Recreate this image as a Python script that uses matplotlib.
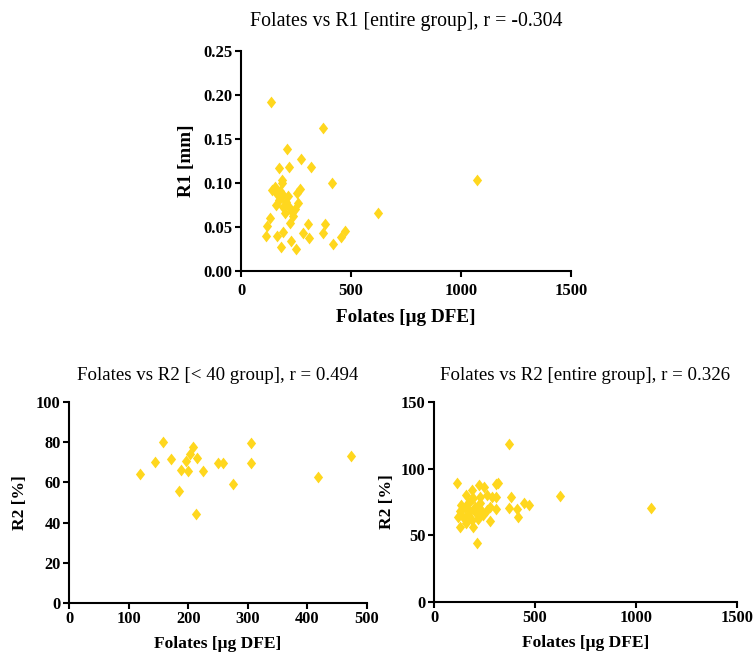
import matplotlib
matplotlib.use("Agg")
import matplotlib.pyplot as plt
from matplotlib.path import Path
import numpy as np

# ---- data ----
r1_folates = [135, 374, 210, 173, 219, 274, 316, 188, 415, 1072, 624,
              139, 154, 162, 177, 192, 174, 159, 189, 204, 215, 219, 200, 230, 245, 253, 268, 260, 238, 222, 185,
              132, 120, 114, 162, 192, 180, 226, 250, 283, 304, 307, 374, 381, 416, 453, 472]
r1_values = [0.192, 0.163, 0.139, 0.117, 0.118, 0.127, 0.118, 0.103, 0.100, 0.103, 0.066,
             0.092, 0.096, 0.088, 0.091, 0.086, 0.081, 0.075, 0.073, 0.078, 0.085, 0.073, 0.066, 0.067, 0.071, 0.089, 0.093, 0.077, 0.062, 0.055, 0.100,
             0.060, 0.051, 0.040, 0.040, 0.044, 0.027, 0.034, 0.025, 0.043, 0.053, 0.038, 0.043, 0.053, 0.031, 0.039, 0.045]

young_folates = [119, 144, 158, 171, 184, 188, 196, 199, 203, 208, 214, 213, 224, 250, 259, 276, 305, 305, 418, 473]
young_r2 = [64.2, 70.0, 80.3, 71.4, 55.6, 66.0, 70.4, 65.7, 74.0, 77.8, 71.9, 44.3, 65.9, 69.9, 69.9, 59.3, 79.5, 69.9, 62.9, 72.9]

all_folates = [371, 114, 222, 248, 308, 316, 190, 157, 260, 285, 306, 381, 622, 1074, 372, 412, 447, 471, 417, 305, 276, 215, 131, 118, 194, 157,
               136, 152, 169, 177, 185, 202, 210, 227, 235, 243, 219, 260, 194, 169, 144, 277, 127, 190, 227]
all_r2 = [118.5, 89.0, 87.6, 86.0, 88.6, 89.0, 84.0, 80.0, 80.0, 79.0, 79.0, 78.6, 79.8, 70.4, 70.4, 69.6, 74.1, 73.1, 63.4, 70.0, 60.4, 44.6, 56.6, 64.1, 56.6, 59.2,
          72.9, 70.4, 74.1, 67.9, 76.6, 71.6, 66.6, 74.1, 69.1, 65.4, 61.9, 69.1, 77.9, 65.4, 64.1, 71.6, 67.9, 61.6, 79.1]

titles = ["Folates vs R1 [entire group], r = -0.304",
          "Folates vs R2 [< 40 group], r = 0.494",
          "Folates vs R2 [entire group], r = 0.326"]

# ---- style ----
COLOR = "#FFD71E"
diamond = Path([(0, 1), (0.78, 0), (0, -1), (-0.78, 0), (0, 1)],
               [Path.MOVETO, Path.LINETO, Path.LINETO, Path.LINETO, Path.CLOSEPOLY])
SERIF = ["Liberation Serif", "DejaVu Serif"]

fig = plt.figure(figsize=(7.53, 6.57), dpi=100)
W, H = 753, 657

def make_ax(l, r, t, b):
    return fig.add_axes([l / W, 1 - b / H, (r - l) / W, (b - t) / H])

def style(ax, xlim, ylim, xticks, yticks, yfmt, tsize, xpad=2):
    tick_font = dict(family=SERIF, weight="bold", size=tsize)
    ax.set_xlim(*xlim)
    ax.set_ylim(*ylim)
    ax.set_xticks(xticks)
    ax.set_yticks(yticks)
    ax.set_xticklabels([str(v) for v in xticks], **tick_font)
    ax.set_yticklabels([yfmt(v) for v in yticks], **tick_font)
    for s in ("top", "right"):
        ax.spines[s].set_visible(False)
    for s in ("left", "bottom"):
        ax.spines[s].set_linewidth(1.5)
    ax.tick_params(direction="out", length=4, width=1.5, pad=2)
    ax.tick_params(axis="x", pad=xpad)
    ax.set_facecolor("white")

# top
ax1 = make_ax(241, 571, 51, 271)
ax1.plot(r1_folates, r1_values, linestyle="none", marker=diamond, ms=8.5,
         color=COLOR, markeredgewidth=0)
style(ax1, (0, 1500), (0, 0.25), [0, 500, 1000, 1500],
      [0.00, 0.05, 0.10, 0.15, 0.20, 0.25], lambda v: f"{v:.2f}", 12, xpad=5)
ax1.set_xlabel("Folates [μg DFE]", labelpad=7, family=SERIF, weight="bold", size=13.8)
ax1.set_ylabel("R1 [mm]", labelpad=6, family=SERIF, weight="bold", size=13.8)
ax1.set_title(titles[0], pad=18, family=SERIF, size=14.3)

# bottom left
ax2 = make_ax(69, 367, 402, 603)
ax2.plot(young_folates, young_r2, linestyle="none", marker=diamond, ms=8.5,
         color=COLOR, markeredgewidth=0)
style(ax2, (0, 500), (0, 100), [0, 100, 200, 300, 400, 500],
      [0, 20, 40, 60, 80, 100], lambda v: str(v), 11.8)
ax2.set_xlabel("Folates [μg DFE]", labelpad=6, family=SERIF, weight="bold", size=12.6)
ax2.set_ylabel("R2 [%]", labelpad=6, family=SERIF, weight="bold", size=12.6)
ax2.set_title(titles[1], pad=16, family=SERIF, size=13.6)

# bottom right
ax3 = make_ax(434, 737, 402, 602)
ax3.plot(all_folates, all_r2, linestyle="none", marker=diamond, ms=8.5,
         color=COLOR, markeredgewidth=0)
style(ax3, (0, 1500), (0, 150), [0, 500, 1000, 1500],
      [0, 50, 100, 150], lambda v: str(v), 11.8)
ax3.set_xlabel("Folates [μg DFE]", labelpad=6, family=SERIF, weight="bold", size=12.6)
ax3.set_ylabel("R2 [%]", labelpad=4, family=SERIF, weight="bold", size=12.6)
ax3.set_title(titles[2], pad=16, family=SERIF, size=13.6)

for ax in (ax1, ax2, ax3):
    for l in ax.lines:
        l.set_clip_on(False)

fig.savefig("out.png", dpi=100, facecolor="white")
